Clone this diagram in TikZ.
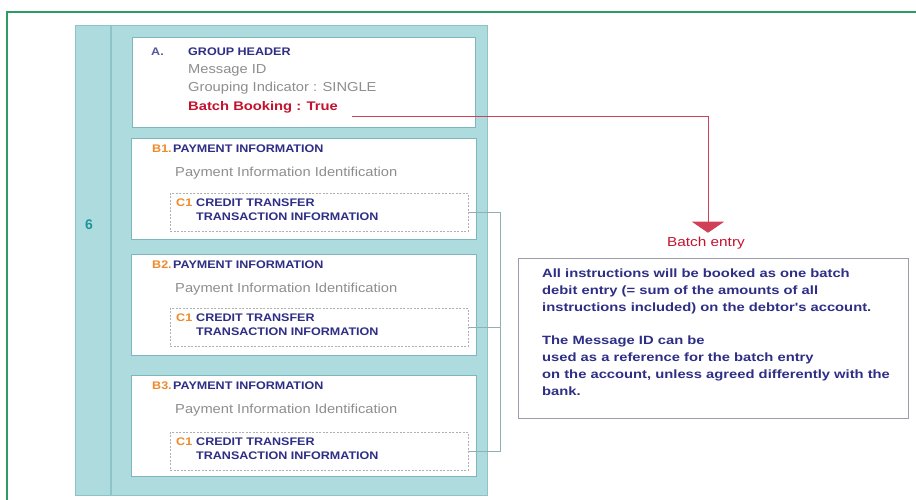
\documentclass[tikz,border=0pt]{standalone}
\usepackage{fontspec}
\setmainfont{Liberation Sans}
\newfontfamily\hdrfont[FakeStretch=1.14]{Liberation Sans}
\newfontfamily\plainfont[FakeStretch=1.13]{Liberation Sans}
\newfontfamily\notefont[FakeStretch=1.23]{Liberation Sans}
\newfontfamily\flagfont[FakeStretch=1.18]{Liberation Sans}
\usetikzlibrary{arrows.meta}
\definecolor{frameGreen}{HTML}{2E9A64}
\definecolor{panelTeal}{HTML}{AEDCDE}
\definecolor{panelEdge}{HTML}{8CC4C8}
\definecolor{boxEdge}{HTML}{7FB6BE}
\definecolor{navy}{HTML}{2E2E86}
\definecolor{softGray}{HTML}{8E8E8E}
\definecolor{bookRed}{HTML}{C4122E}
\definecolor{tagOrange}{HTML}{EE8A2C}
\definecolor{numTeal}{HTML}{1E9696}
\definecolor{noteEdge}{HTML}{9C9CAA}
\definecolor{linkGray}{HTML}{8FB0B4}
\tikzset{
  frameline/.style={draw=frameGreen, line width=2pt},
  panelbox/.style={draw=panelEdge, fill=panelTeal, line width=0.8pt, anchor=north west, inner sep=0pt},
  sectbox/.style={draw=boxEdge, fill=white, line width=1pt, anchor=north west, inner sep=0pt},
  cbox/.style={draw=softGray!70, dashed, dash pattern=on 2pt off 1.5pt, line width=0.6pt, anchor=north west, inner sep=0pt},
  notebox/.style={draw=noteEdge, fill=white, line width=1.2pt, anchor=north west, inner sep=0pt},
  hdr/.style={anchor=west, inner sep=0pt, text=navy, font=\hdrfont\fontsize{11}{13}\selectfont\bfseries},
  tag/.style={anchor=west, inner sep=0pt, text=tagOrange, font=\hdrfont\fontsize{11}{13}\selectfont\bfseries},
  plain/.style={anchor=west, inner sep=0pt, text=softGray, font=\plainfont\fontsize{13}{15}\selectfont},
  redtxt/.style={anchor=west, inner sep=0pt, text=bookRed, font=\flagfont\fontsize{12.5}{15}\selectfont\bfseries},
  link/.style={draw=linkGray, line width=0.7pt},
}
\begin{document}
\begin{tikzpicture}[x=1pt,y=-1pt]
\useasboundingbox (0,0) rectangle (916,500);

% outer frame (top and left edges)
\draw[frameline] (916,12) -- (7,12) -- (7,500);

% teal message panel with its numbered strip
\node[panelbox, minimum width=412pt, minimum height=470pt] (panel) at (75,25) {};
\draw[draw=panelEdge, line width=2pt] (111,25) -- (111,495);
\node[anchor=center, text=numTeal, font=\fontsize{14}{16}\selectfont\bfseries] (num) at (89,225) {6};

% group header block
\node[sectbox, minimum width=343pt, minimum height=90pt] (ga) at (132,37) {};
\node[hdr, text=navy!80] (galbl) at (151,52) {A.};
\node[hdr] (gahdr) at (188,52) {GROUP HEADER};
\node[plain] (msgid) at (188,70) {Message ID};
\node[plain] (grp) at (188,88) {Grouping Indicator : SINGLE};
\node[redtxt] (bbook) at (188,107) {Batch Booking : True};

% payment information blocks
\foreach \i/\tp/\lab/\ct in {1/138/B1./193, 2/254/B2./308, 3/375/B3./432}{
  \node[sectbox, minimum width=345pt, minimum height=101pt] (b\i) at (131,\tp) {};
  \node[tag] (b\i tag) at (152,\tp+11) {\lab};
  \node[hdr] (b\i hdr) at (173,\tp+11) {PAYMENT INFORMATION};
  \node[plain] (b\i pii) at (175,\tp+35) {Payment Information Identification};
  \node[cbox, minimum width=298pt, minimum height=38pt] (c\i) at (170,\ct) {};
  \node[tag] (c\i tag) at (176,\ct+10) {C1};
  \node[hdr] (c\i l1) at (196,\ct+10) {CREDIT TRANSFER};
  \node[hdr] (c\i l2) at (196,\ct+24) {TRANSACTION INFORMATION};
}

% bracket joining the credit transfer blocks
\coordinate (brk) at (500,0);
\draw[link] (c1.east) -- (c1.east -| brk) -- (c3.east -| brk) -- (c3.east);
\draw[link] (c2.east) -- (c2.east -| brk);

% batch entry note
\node[anchor=center, inner sep=0pt, text=bookRed, font=\flagfont\fontsize{13}{15}\selectfont] (bentry) at (706,243) {Batch entry};
\node[notebox, minimum width=390pt, minimum height=160pt] (note) at (518,258) {};
\node[anchor=north west, inner sep=0pt, align=left, text=navy, font=\notefont\fontsize{12}{17}\selectfont\bfseries] (notetxt) at (542,269)
  {All instructions will be booked as one batch\\
   debit entry (= sum of the amounts of all\\
   instructions included) on the debtor's account.\\[16pt]
   The Message ID can be\\
   used as a reference for the batch entry\\
   on the account, unless agreed differently with the\\
   bank.};

% batch booking flag leads to the note
\coordinate (bbstart) at (352,116);
\coordinate (drop) at (708,0);
\draw[draw=bookRed!80, line width=0.8pt, -{Triangle[width=32pt,length=11pt]}]
  (bbstart) -| ([yshift=4pt]drop |- bentry.north);
\end{tikzpicture}
\end{document}
